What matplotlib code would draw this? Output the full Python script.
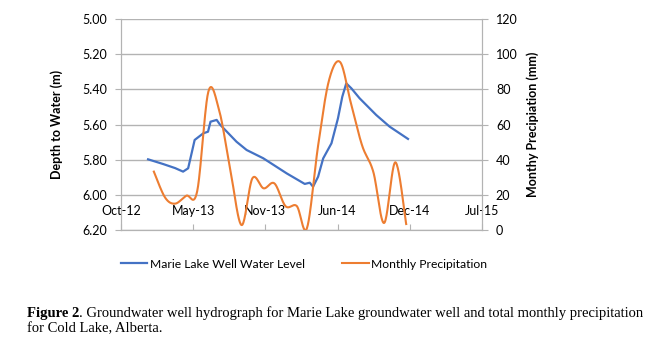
import matplotlib
matplotlib.use("Agg")
import matplotlib.pyplot as plt
import matplotlib.dates as mdates
import numpy as np
from datetime import datetime, timedelta

# Marie Lake well: depth to water (m)
well_dates = ["2012-12-30", "2013-02-10", "2013-03-15", "2013-04-06", "2013-04-20",
              "2013-04-30", "2013-05-08", "2013-06-01", "2013-06-14", "2013-06-21",
              "2013-07-08", "2013-07-17", "2013-09-01", "2013-09-29", "2013-11-14",
              "2014-01-18", "2014-03-09", "2014-03-23", "2014-04-01", "2014-04-15",
              "2014-04-29", "2014-05-22", "2014-06-09", "2014-06-21", "2014-07-02",
              "2014-07-16", "2014-08-08", "2014-09-23", "2014-10-30", "2014-12-20"]
well_depth = [5.798, 5.825, 5.848, 5.868, 5.849,
              5.760, 5.688, 5.650, 5.641, 5.584,
              5.574, 5.600, 5.698, 5.745, 5.792,
              5.878, 5.938, 5.931, 5.954, 5.897,
              5.793, 5.707, 5.565, 5.442, 5.366,
              5.394, 5.451, 5.546, 5.612, 5.682]

# Cold Lake monthly precipitation (mm), Jan 2013 - Dec 2014
precip_months = ["2013-01", "2013-02", "2013-03", "2013-04", "2013-05", "2013-06",
                 "2013-07", "2013-08", "2013-09", "2013-10", "2013-11", "2013-12",
                 "2014-01", "2014-02", "2014-03", "2014-04", "2014-05", "2014-06",
                 "2014-07", "2014-08", "2014-09", "2014-10", "2014-11", "2014-12"]
precip_mm = [33.2, 18.5, 15.0, 19.5, 22.0, 78.7,
             68.0, 34.0, 2.8, 29.4, 23.7, 26.5,
             13.5, 13.6, 1.0, 48.0, 85.0, 95.5,
             72.0, 48.0, 33.0, 4.0, 38.5, 3.4]

left_ticks = [5.0, 5.2, 5.4, 5.6, 5.8, 6.0, 6.2]
right_ticks = [0, 20, 40, 60, 80, 100, 120]

BLUE = "#4472C4"
ORANGE = "#ED7D31"
GRID = "#b3b3b3"


def smooth(x, y, n=25):
    # excel style smoothed line (bezier through every point)
    pts = np.column_stack([x, y])
    t = np.linspace(0, 1, n)[:, None]
    out = []
    for i in range(len(pts) - 1):
        p0 = pts[max(i - 1, 0)]
        p1 = pts[i]
        p2 = pts[i + 1]
        p3 = pts[min(i + 2, len(pts) - 1)]
        c1 = p1 + (p2 - p0) / 6
        c2 = p2 - (p3 - p1) / 6
        seg = (1 - t) ** 3 * p1 + 3 * (1 - t) ** 2 * t * c1 + 3 * (1 - t) * t ** 2 * c2 + t ** 3 * p2
        out.append(seg)
    out = np.vstack(out)
    return out[:, 0], out[:, 1]


def main():
    plt.rcParams['font.family'] = ['Lato', 'DejaVu Sans']

    fig = plt.figure(figsize=(6.6, 3.51), dpi=100)
    ax = fig.add_axes([121 / 660, 1 - 230 / 351, 361 / 660, 211 / 351])
    ax2 = ax.twinx()

    wx = mdates.date2num([datetime.strptime(d, "%Y-%m-%d") for d in well_dates])
    px = mdates.date2num([datetime.strptime(m + "-15", "%Y-%m-%d") for m in precip_months])
    sx, sy = smooth(px, np.array(precip_mm))

    l1, = ax.plot(wx, well_depth, color=BLUE, lw=1.6, zorder=3)
    l2, = ax2.plot(sx, sy, color=ORANGE, lw=1.5)

    # date axis: 200 day steps starting mid Oct 2012
    start = datetime(2012, 10, 16)
    xt = [start + timedelta(days=200 * k) for k in range(6)]
    ax.set_xlim(mdates.date2num(start), mdates.date2num(xt[-1]))
    ax.set_xticks(mdates.date2num(xt))
    ax.xaxis.set_major_formatter(mdates.DateFormatter("%b-%y"))

    ax.set_ylim(6.2, 5.0)
    ax.set_yticks(left_ticks)
    ax.set_yticklabels(["%.2f" % v for v in left_ticks])
    ax2.set_ylim(0, 120)
    ax2.set_yticks(right_ticks)

    ax.grid(axis='y', color=GRID, lw=1)
    ax.set_axisbelow(True)
    for a in (ax, ax2):
        for s in a.spines.values():
            s.set_color(GRID)
        a.spines['top'].set_visible(False)
    ax.tick_params(axis='x', direction='in', length=4, color=GRID, pad=-18, labelsize=9)
    ax.tick_params(axis='y', length=4, color=GRID, pad=6, labelsize=9)
    ax2.tick_params(axis='y', length=4, color=GRID, pad=6, labelsize=9)

    ax.set_ylabel("Depth to Water (m)", fontsize=9, fontweight='bold', labelpad=14)
    ax2.set_ylabel("Monthy Precipiation (mm)", fontsize=9, fontweight='bold', labelpad=6)

    fig.legend([l1, l2], ["Marie Lake Well Water Level", "Monthly Precipitation"],
               loc='center', bbox_to_anchor=(304 / 660, 1 - 264 / 351), ncol=2,
               frameon=False, fontsize=8.7, handlelength=2.2, handletextpad=0.2,
               columnspacing=3.1)

    # caption
    cap = dict(family=['Liberation Serif', 'DejaVu Serif'], fontsize=10.5)
    t1 = fig.text(27 / 660, 1 - 317 / 351, "Figure 2", fontweight='bold', va='baseline', **cap)
    fig.canvas.draw()
    bb = t1.get_window_extent()
    fig.text(bb.x1 / fig.bbox.width, 1 - 317 / 351,
             ". Groundwater well hydrograph for Marie Lake groundwater well and total monthly precipitation",
             va='baseline', **cap)
    fig.text(27 / 660, 1 - 332 / 351, "for Cold Lake, Alberta.", va='baseline', **cap)

    fig.savefig("out.png", dpi=100)


if __name__ == "__main__":
    main()
